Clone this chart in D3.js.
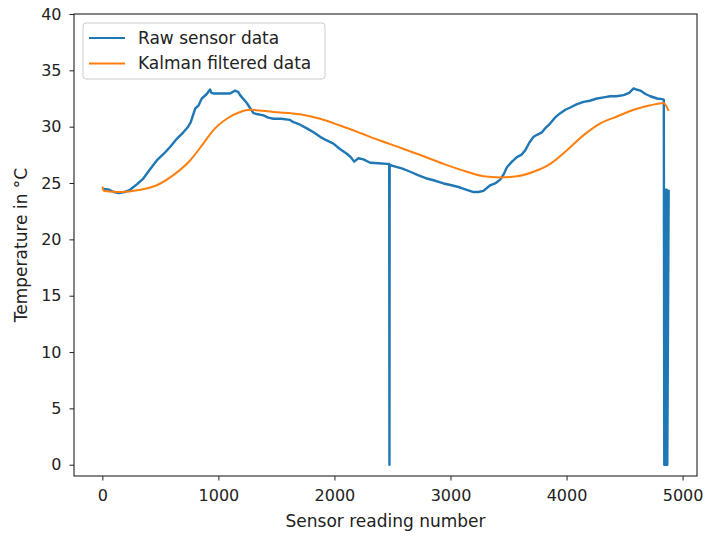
<!DOCTYPE html>
<html>
<head>
<meta charset="utf-8">
<script src="https://cdn.jsdelivr.net/npm/d3@7"></script>
<style>
  body { margin: 0; background: #fff; }
  text { font-family: "DejaVu Sans", sans-serif; }
</style>
</head>
<body>
<div id="wrapper"></div>
<script>
'use strict';

//#region DATA
// raw sensor readings (reading number, temperature)
const rawIndex = [0, 60, 100, 140, 190, 239, 300, 353, 410, 469, 530, 584, 640, 698, 740, 762, 800, 830, 857, 900, 928, 940, 957, 1020, 1101, 1144, 1170, 1187, 1245, 1302, 1340, 1388, 1430, 1474, 1540, 1618, 1647, 1700, 1762, 1820, 1877, 1930, 1991, 2050, 2107, 2140, 2170, 2207, 2250, 2308, 2380, 2452, 2472, 2474, 2476, 2509, 2580, 2653, 2720, 2797, 2870, 2940, 3010, 3084, 3140, 3198, 3240, 3284, 3342, 3390, 3428, 3460, 3486, 3530, 3572, 3610, 3644, 3680, 3716, 3750, 3788, 3820, 3860, 3900, 3946, 3990, 4032, 4090, 4147, 4200, 4262, 4320, 4377, 4430, 4491, 4540, 4578, 4600, 4636, 4680, 4722, 4780, 4822, 4838, 4842, 4846, 4849, 4853, 4856, 4860, 4864, 4868, 4880];
const rawTemp  = [24.5, 24.4, 24.2, 24.1, 24.2, 24.4, 24.9, 25.4, 26.2, 27.0, 27.6, 28.2, 28.9, 29.5, 30.0, 30.4, 31.6, 31.9, 32.5, 32.9, 33.3, 33.0, 32.95, 32.95, 32.95, 33.2, 33.1, 32.8, 32.1, 31.2, 31.1, 31.0, 30.8, 30.7, 30.7, 30.6, 30.4, 30.2, 29.85, 29.5, 29.1, 28.8, 28.5, 28.0, 27.6, 27.3, 26.9, 27.2, 27.1, 26.8, 26.75, 26.7, 26.7, 0, 26.6, 26.5, 26.3, 26.0, 25.7, 25.4, 25.2, 24.96, 24.8, 24.6, 24.4, 24.2, 24.2, 24.3, 24.8, 25.0, 25.3, 25.8, 26.4, 26.9, 27.3, 27.5, 27.9, 28.6, 29.1, 29.3, 29.5, 29.9, 30.3, 30.8, 31.2, 31.5, 31.7, 32.0, 32.2, 32.3, 32.5, 32.6, 32.7, 32.7, 32.8, 33.0, 33.4, 33.3, 33.2, 32.9, 32.7, 32.5, 32.45, 32.4, 0, 0, 24.4, 0, 24.4, 0, 24.4, 0, 24.4, 24.4];

// Kalman filtered estimate
const kalmanIndex = [0, 15, 153, 326, 469, 612, 756, 870, 957, 1072, 1187, 1274, 1474, 1704, 1877, 2049, 2207, 2308, 2480, 2710, 2940, 3141, 3284, 3428, 3572, 3716, 3860, 4003, 4147, 4291, 4434, 4578, 4722, 4836, 4879];
const kalmanTemp  = [24.7, 24.3, 24.2, 24.4, 24.8, 25.7, 27.0, 28.5, 29.7, 30.7, 31.3, 31.5, 31.3, 31.1, 30.7, 30.1, 29.5, 29.1, 28.45, 27.6, 26.7, 26.0, 25.6, 25.5, 25.6, 26.0, 26.7, 27.9, 29.25, 30.3, 30.9, 31.5, 31.9, 32.1, 31.4];

const xTicks = [0, 1000, 2000, 3000, 4000, 5000];
const yTicks = [0, 5, 10, 15, 20, 25, 30, 35, 40];
const seriesNames = ['Raw sensor data', 'Kalman filtered data'];
const seriesColours = ['#1f77b4', '#ff7f0e'];
//#endregion DATA

//#region DIMENSIONS
const dimensions = {
  width: 705,
  height: 536,
  margin: {top: 14, right: 8, bottom: 60, left: 74}
};
dimensions.plotWidth = dimensions.width - dimensions.margin.left - dimensions.margin.right;
dimensions.plotHeight = dimensions.height - dimensions.margin.top - dimensions.margin.bottom;
//#endregion DIMENSIONS

//#region CANVAS
const wrapper = d3.select('#wrapper')
  .append('svg')
  .attr('width', dimensions.width)
  .attr('height', dimensions.height);

const plot = wrapper.append('g')
  .attr('transform', `translate(${dimensions.margin.left},${dimensions.margin.top})`);
//#endregion CANVAS

//#region SCALES
const xScale = d3.scaleLinear()
  .domain([-244, 5124])
  .range([0, dimensions.plotWidth]);
const yScale = d3.scaleLinear()
  .domain([-1, 40])
  .range([dimensions.plotHeight, 0]);
//#endregion SCALES

//#region LINES
const rawData = rawIndex.map((x, i) => ({x, y: rawTemp[i]}));
const kalmanData = kalmanIndex.map((x, i) => ({x, y: kalmanTemp[i]}));

const rawLine = d3.line()
  .x(d => xScale(d.x))
  .y(d => yScale(d.y));
const smoothLine = d3.line()
  .x(d => xScale(d.x))
  .y(d => yScale(d.y))
  .curve(d3.curveMonotoneX);

plot.append('path')
  .datum(rawData)
  .attr('d', rawLine)
  .attr('fill', 'none')
  .attr('stroke', seriesColours[0])
  .attr('stroke-width', 2.4)
  .attr('stroke-linejoin', 'round');

plot.append('path')
  .datum(kalmanData)
  .attr('d', smoothLine)
  .attr('fill', 'none')
  .attr('stroke', seriesColours[1])
  .attr('stroke-width', 2);
//#endregion LINES

//#region AXES
const xAxis = plot.append('g')
  .attr('transform', `translate(0,${dimensions.plotHeight})`)
  .call(d3.axisBottom(xScale).tickValues(xTicks).tickFormat(d3.format('d'))
    .tickSize(4.5).tickPadding(9).tickSizeOuter(0));
const yAxis = plot.append('g')
  .call(d3.axisLeft(yScale).tickValues(yTicks).tickFormat(d3.format('d'))
    .tickSize(4.5).tickPadding(8).tickSizeOuter(0));

[xAxis, yAxis].forEach(ax => {
  ax.select('.domain').remove();
  ax.selectAll('.tick line').attr('stroke', '#222').attr('stroke-width', 1);
  ax.selectAll('.tick text')
    .attr('fill', '#222')
    .style('font-size', '16px')
    .style('font-family', '"DejaVu Sans", sans-serif');
});

// frame
plot.append('rect')
  .attr('x', 0)
  .attr('y', 0)
  .attr('width', dimensions.plotWidth)
  .attr('height', dimensions.plotHeight)
  .attr('fill', 'none')
  .attr('stroke', '#222')
  .attr('stroke-width', 1.1);

wrapper.append('text')
  .attr('x', dimensions.margin.left + dimensions.plotWidth / 2)
  .attr('y', 527)
  .attr('text-anchor', 'middle')
  .attr('fill', '#222')
  .style('font-size', '17px')
  .text('Sensor reading number');

wrapper.append('text')
  .attr('transform', `translate(27,${dimensions.margin.top + dimensions.plotHeight / 2}) rotate(-90)`)
  .attr('text-anchor', 'middle')
  .attr('fill', '#222')
  .style('font-size', '17px')
  .text('Temperature in °C');
//#endregion AXES

//#region LEGEND
const legend = plot.append('g')
  .attr('transform', 'translate(9,9)');

legend.append('rect')
  .attr('width', 242)
  .attr('height', 56)
  .attr('rx', 3)
  .attr('fill', '#fff')
  .attr('fill-opacity', 0.8)
  .attr('stroke', '#ccc');

seriesNames.forEach((name, i) => {
  const row = legend.append('g')
    .attr('transform', `translate(0,${15 + i * 25.5})`);
  row.append('line')
    .attr('x1', 6)
    .attr('x2', 42)
    .attr('stroke', seriesColours[i])
    .attr('stroke-width', 2);
  row.append('text')
    .attr('x', 55)
    .attr('dy', '0.35em')
    .attr('fill', '#222')
    .style('font-size', '17px')
    .text(name);
});
//#endregion LEGEND
</script>
</body>
</html>
